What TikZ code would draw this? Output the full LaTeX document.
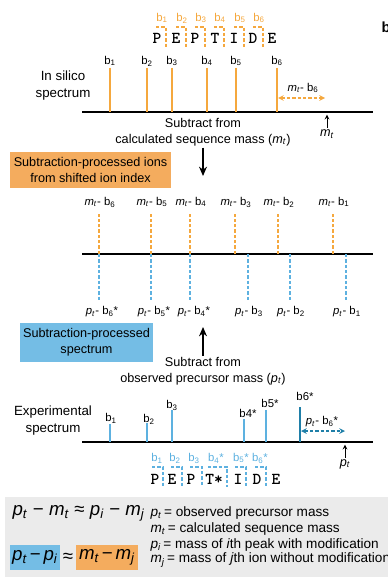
\documentclass[tikz,border=0pt]{standalone}
\usepackage{fontspec}
\setmainfont{Liberation Sans}
\newfontfamily\pepfont{lmmonolt10-bold.otf}
\usepackage{tikz}
\usetikzlibrary{arrows,arrows.meta,positioning}

\definecolor{silico}{HTML}{F5A83E}
\definecolor{expblue}{HTML}{5DB1E0}
\definecolor{darkteal}{HTML}{1F7FA8}
\definecolor{boxorange}{HTML}{F4AC5E}
\definecolor{boxblue}{HTML}{74BDE5}
\definecolor{panelgray}{HTML}{EBEBEB}

\newcommand{\mtot}{\textit{m}\textsubscript{\textit{t}}}
\newcommand{\ptot}{\textit{p}\textsubscript{\textit{t}}}
\newcommand{\bion}[1]{b\textsubscript{#1}}

\begin{document}
\begin{tikzpicture}[> = stealth, % arrow head style
	x=0.75pt, y=-0.75pt, % one unit is one pixel of the layout
	every node/.style={inner sep=1pt,font=\fontsize{8.5}{10}\selectfont},
	bigtext/.style={font=\fontsize{10}{12.75}\selectfont,align=center},
	midtext/.style={font=\fontsize{9.5}{12}\selectfont,align=center},
	letter/.style={font=\pepfont\fontsize{12.5}{13}\selectfont},
	eqtext/.style={font=\fontsize{14}{16}\selectfont},
	deftext/.style={anchor=west,font=\fontsize{10.2}{12}\selectfont},
	axisline/.style={line width=1pt},
	silicopeak/.style={silico,line width=1.1pt},
	exppeak/.style={expblue,line width=1.1pt},
	silicodash/.style={silico,line width=0.9pt,dash pattern=on 2.5pt off 1.5pt},
	expdash/.style={expblue,line width=0.9pt,dash pattern=on 2.5pt off 1.5pt},
	bigarrow/.style={-{Stealth[length=7pt,width=6pt]},line width=1pt}]

	\useasboundingbox (0,0) rectangle (387,588);

	% panel letter
	\node[anchor=west,font=\bfseries\fontsize{11}{12}\selectfont] (panel) at (380,27) {b};

	% peptide with calculated ions
	\node[letter] (p1) at (157,38) {P};
	\node[letter] (p2) at (176,38) {E};
	\node[letter] (p3) at (195,38) {P};
	\node[letter] (p4) at (215,38) {T};
	\node[letter] (p5) at (234,38) {I};
	\node[letter] (p6) at (253,38) {D};
	\node[letter] (p7) at (272,38) {E};

	\draw[silicodash] (156,27) -| (166,47);
	\draw[silicodash] (176,27) -| (186,47);
	\draw[silicodash] (195,27) -| (205,47);
	\draw[silicodash] (214,27) -| (224,47);
	\draw[silicodash] (234,27) -| (244,47);
	\draw[silicodash] (253,27) -| (263,47);
	\node[text=silico] (t1) at (162,18) {\bion{1}};
	\node[text=silico] (t2) at (182,18) {\bion{2}};
	\node[text=silico] (t3) at (201,18) {\bion{3}};
	\node[text=silico] (t4) at (220,18) {\bion{4}};
	\node[text=silico] (t5) at (240,18) {\bion{5}};
	\node[text=silico] (t6) at (259,18) {\bion{6}};

	% in silico spectrum
	\node[bigtext] (silico) at (63,86) {In silico\\spectrum};
	\coordinate (ax1l) at (82,112);
	\coordinate (ax1r) at (373,112);
	\draw[axisline] (ax1l) -- (ax1r);

	\coordinate (a1) at (110,112);
	\coordinate (a2) at (147,112);
	\coordinate (a3) at (172,112);
	\coordinate (a4) at (207,112);
	\coordinate (a5) at (236,112);
	\coordinate (a6) at (277,112);
	\node (s1) at (110,61) {\bion{1}};
	\node (s2) at (147,61) {\bion{2}};
	\node (s3) at (172,61) {\bion{3}};
	\node (s4) at (207,61) {\bion{4}};
	\node (s5) at (236,61) {\bion{5}};
	\node (s6) at (277,61) {\bion{6}};
	\draw[silicopeak] (s1) -- (a1);
	\draw[silicopeak] (s2) -- (a2);
	\draw[silicopeak] (s3) -- (a3);
	\draw[silicopeak] (s4) -- (a4);
	\draw[silicopeak] (s5) -- (a5);
	\draw[silicopeak] (s6) -- (a6);

	\coordinate (d1) at (278,98);
	\coordinate (d2) at (325,98);
	\draw[silicodash,<->] (d1) -- (d2);
	\node (mtb) at (303,88) {\mtot- \bion{6}};

	\coordinate (mtax) at (327,112);
	\node[font=\fontsize{9.5}{11}\selectfont] (mt) at (327,134) {\mtot};
	\draw[->,semithick,shorten >=2pt] (mt) -- (mtax);

	\node[midtext] (sub1) at (203,132) {Subtract from\\calculated sequence mass (\mtot)};
	\coordinate (down) at (203,176);
	\draw[bigarrow] (sub1) -- (down);

	\node[midtext,fill=boxorange,minimum width=120.75pt,minimum height=27pt,inner sep=0pt] (obox) at (90.5,170) {Subtraction-processed ions\\from shifted ion index};

	% shifted ion index
	\coordinate (ax2l) at (82,254);
	\coordinate (ax2r) at (373,254);
	\draw[axisline] (ax2l) -- (ax2r);

	\node (u1) at (100,202) {\mtot- \bion{6}};
	\node (u2) at (152,202) {\mtot- \bion{5}};
	\node (u3) at (191,202) {\mtot- \bion{4}};
	\node (u4) at (236,202) {\mtot- \bion{3}};
	\node (u5) at (279,202) {\mtot- \bion{2}};
	\node (u6) at (334,202) {\mtot- \bion{1}};
	\coordinate (w1) at (99,254);
	\coordinate (w2) at (151,254);
	\coordinate (w3) at (190,254);
	\coordinate (w4) at (235,254);
	\coordinate (w5) at (278,254);
	\coordinate (w6) at (333,254);
	\draw[silicodash,shorten >=4pt] (w1) -- (w1 |- u1.south);
	\draw[silicodash,shorten >=4pt] (w2) -- (w2 |- u2.south);
	\draw[silicodash,shorten >=4pt] (w3) -- (w3 |- u3.south);
	\draw[silicodash,shorten >=4pt] (w4) -- (w4 |- u4.south);
	\draw[silicodash,shorten >=4pt] (w5) -- (w5 |- u5.south);
	\draw[silicodash,shorten >=4pt] (w6) -- (w6 |- u6.south);

	\node (l1) at (102,312) {\ptot- \bion{6}*};
	\node (l2) at (154,312) {\ptot- \bion{5}*};
	\node (l3) at (194,312) {\ptot- \bion{4}*};
	\node (l4) at (249,312) {\ptot- \bion{3}};
	\node (l5) at (291,312) {\ptot- \bion{2}};
	\node (l6) at (347,312) {\ptot- \bion{1}};
	\coordinate (v1) at (99,254);
	\coordinate (v2) at (151,254);
	\coordinate (v3) at (190,254);
	\coordinate (v4) at (248,254);
	\coordinate (v5) at (290,254);
	\coordinate (v6) at (346,254);
	\draw[expdash,shorten >=4pt] (v1) -- (v1 |- l1.north);
	\draw[expdash,shorten >=4pt] (v2) -- (v2 |- l2.north);
	\draw[expdash,shorten >=4pt] (v3) -- (v3 |- l3.north);
	\draw[expdash,shorten >=4pt] (v4) -- (v4 |- l4.north);
	\draw[expdash,shorten >=4pt] (v5) -- (v5 |- l5.north);
	\draw[expdash,shorten >=4pt] (v6) -- (v6 |- l6.north);

	\node[midtext,fill=boxblue,minimum width=99.75pt,minimum height=29pt,inner sep=0pt] (bbox) at (86.5,342.5) {Subtraction-processed\\spectrum};

	\node[midtext] (sub2) at (203,371) {Subtract from\\observed precursor mass (\ptot)};
	\coordinate (up) at (203,327);
	\draw[bigarrow] (sub2) -- (up);

	% experimental spectrum
	\node[bigtext] (exper) at (53,421) {Experimental\\spectrum};
	\coordinate (ax3l) at (82,442);
	\coordinate (ax3r) at (373,442);
	\draw[axisline] (ax3l) -- (ax3r);

	\coordinate (e1) at (110,442);
	\coordinate (e2) at (147,442);
	\coordinate (e3) at (172,442);
	\coordinate (e4) at (244,442);
	\coordinate (e5) at (266,442);
	\coordinate (e6) at (300,442);
	\node (x1) at (111,418) {\bion{1}};
	\node (x2) at (149,419) {\bion{2}};
	\node (x3) at (172,405) {\bion{3}};
	\node (x4) at (248,413) {b4*};
	\node (x5) at (270,403) {b5*};
	\node (x6) at (305,396) {b6*};
	\draw[exppeak] (e1) -- (110,424);
	\draw[exppeak] (e2) -- (147,423);
	\draw[exppeak] (e3) -- (172,410);
	\draw[exppeak] (e4) -- (244,419);
	\draw[exppeak] (e5) -- (266,410);
	\draw[darkteal,line width=1.1pt] (e6) -- (300,407);

	\coordinate (f1) at (301,431);
	\coordinate (f2) at (345,431);
	\draw[darkteal,line width=0.9pt,dash pattern=on 2.5pt off 1.5pt,<->] (f1) -- (f2);
	\node (ptb) at (322,422) {\ptot- \bion{6}*};

	\coordinate (ptax) at (345,442);
	\node[font=\fontsize{9.5}{11}\selectfont] (pt) at (345,464) {\ptot};
	\draw[->,semithick,shorten >=2pt] (pt) -- (ptax);

	% peptide with observed ions
	\node[letter] (q1) at (155,479) {P};
	\node[letter] (q2) at (172,479) {E};
	\node[letter] (q3) at (191,479) {P};
	\node[letter] (q4) at (214,479) {T*};
	\node[letter] (q5) at (238,479) {I};
	\node[letter] (q6) at (257,479) {D};
	\node[letter] (q7) at (276,479) {E};

	\draw[expdash] (152,467) -| (163,487);
	\draw[expdash] (171,467) -| (182,487);
	\draw[expdash] (190,467) -| (202,487);
	\draw[expdash] (208,467) -| (227,487);
	\draw[expdash] (235,467) -| (246,487);
	\draw[expdash] (255,467) -| (266,487);
	\node[text=expblue] (k1) at (157,458) {\bion{1}};
	\node[text=expblue] (k2) at (175,458) {\bion{2}};
	\node[text=expblue] (k3) at (194,458) {\bion{3}};
	\node[text=expblue] (k4) at (216,458) {\bion{4}*};
	\node[text=expblue] (k5) at (241,458) {\bion{5}*};
	\node[text=expblue] (k6) at (260,458) {\bion{6}*};

	% equations
	\fill[panelgray] (5,497) rectangle (392,577);
	\node[eqtext,anchor=west] (eq1) at (11,513) {\ptot\ − \mtot\ ≈ \textit{p}\textsubscript{\textit{i}} − \textit{m}\textsubscript{\textit{j}}};
	\node[eqtext,fill=boxblue,minimum width=37.5pt,minimum height=19pt,inner sep=1pt] (eqa) at (35,557.5) {\ptot\kern2pt−\kern2pt\textit{p}\textsubscript{\textit{i}}};
	\node[eqtext] (approx) at (68,557.5) {≈};
	\node[eqtext,fill=boxorange,minimum width=46.5pt,minimum height=19pt,inner sep=1pt] (eqb) at (107,557.5) {\mtot\kern2pt−\kern2pt\textit{m}\textsubscript{\textit{j}}};

	\node[deftext] (def1) at (149,513) {\ptot\,= observed precursor mass};
	\node[deftext] (def2) at (149,529) {\mtot\,= calculated sequence mass};
	\node[deftext] (def3) at (149,545) {\textit{p}\textsubscript{\textit{i}}\,= mass of \textit{i}th peak with modification};
	\node[deftext] (def4) at (149,560) {\textit{m}\textsubscript{\textit{j}}\,= mass of \textit{j}th ion without modification};

\end{tikzpicture}
\end{document}
